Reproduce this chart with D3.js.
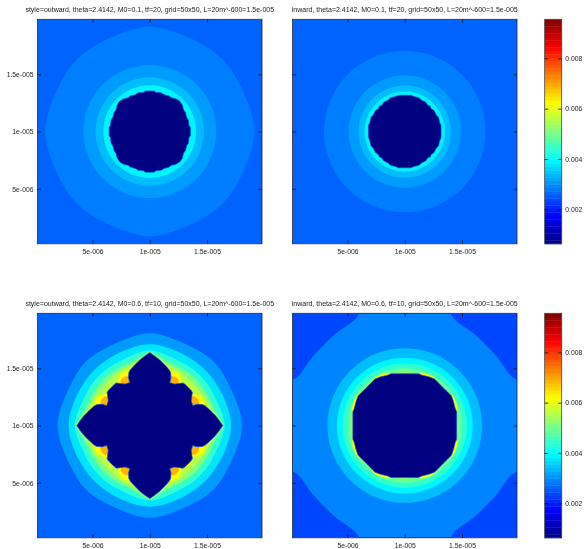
<!DOCTYPE html>
<html>
<head>
<meta charset="utf-8">
<script src="https://cdn.jsdelivr.net/npm/d3@7"></script>
<style>
    html, body { margin: 0; background: #fff; }
    svg { display: block; filter: blur(0.3px); }
    text { font-family: "Liberation Sans", sans-serif; font-size: 6.8px; fill: #222; }
    text.title { font-size: 7px; }
</style>
</head>
<body>
<svg id="chart" width="584" height="549"></svg>
<script>
const titles = [
    "style=outward, theta=2.4142, M0=0.1, tf=20, grid=50x50, L=20m^-600=1.5e-005",
    "inward, theta=2.4142, M0=0.1, tf=20, grid=50x50, L=20m^-600=1.5e-005",
    "style=outward, theta=2.4142, M0=0.6, tf=10, grid=50x50, L=20m^-600=1.5e-005",
    "inward, theta=2.4142, M0=0.6, tf=10, grid=50x50, L=20m^-600=1.5e-005"
];
const axisTicks = [5e-6, 1e-5, 1.5e-5];
const axisLabels = ["5e-006", "1e-005", "1.5e-005"];
const axisDomain = [2e-7, 1.98e-5];
const colorTicks = [0.002, 0.004, 0.006, 0.008];
const colorDomain = [0.00063, 0.00955];
const colorSteps = 64;
const center = 1e-5;
const ringAngles = [0, 7.5, 15, 22.5, 30, 37.5, 45];

// Contours are one octant in micrometres from the centre: [dx, dy], from the axis to the diagonal.
const ring = radii => radii.map((r, i) => [r * Math.sin(ringAngles[i] * Math.PI / 180), r * Math.cos(ringAngles[i] * Math.PI / 180)]);
const circle = r => ring(ringAngles.map(() => r));

const outwardLowBackground = 0.0026;
const outwardLowValues = [0.00285, 0.0031, 0.0034, 0.0039];
const outwardLowRings = [
    ring([9.17, 9.05, 8.95, 8.88, 8.88, 8.92, 8.95]),
    circle(5.8),
    circle(4.73),
    circle(4.05)
];
const outwardLowCore = [[0, 3.55], [0.35, 3.55], [0.55, 3.42], [1.0, 3.38], [1.25, 3.22], [1.65, 3.12], [1.9, 2.95], [2.3, 2.85], [2.6, 2.68]];

const inwardLowBackground = 0.0026;
const inwardLowValues = [0.00285, 0.0031, 0.0034, 0.0039];
const inwardLowRings = [
    circle(7.05),
    circle(4.9),
    circle(4.03),
    circle(3.5)
];
const inwardLowCore = [[0, 3.17], [0.55, 3.17], [0.8, 3.05], [1.25, 2.95], [1.45, 2.75], [1.85, 2.55], [2.0, 2.3], [2.22, 2.22]];

const outwardHighBackground = 0.0026;
const outwardHighValues = [0.0031, 0.00375, 0.0044, 0.0051, 0.0056, 0.0062, 0.00687];
const outwardHighRings = [
    ring([8.05, 7.98, 7.85, 7.78, 7.78, 7.85, 7.9]),
    ring([7.09, 7.05, 6.95, 6.9, 6.85, 6.85, 6.85]),
    ring([6.55, 6.45, 6.3, 6.2, 6.2, 6.2, 6.2]),
    [[0, 6.42], [0.9, 5.95], [1.8, 5.45], [2.8, 4.95], [4.03, 4.03]],
    [[0, 6.38], [0.8, 5.85], [1.5, 5.35], [2.6, 4.7], [3.71, 3.71]],
    [[0, 5.0], [1.3, 4.9], [1.8, 4.85], [2.45, 4.6], [2.7, 4.1], [2.8, 3.7], [3.45, 3.45]],
    [[0, 4.2], [1.7, 4.35], [2.3, 4.2], [2.55, 3.9], [2.5, 3.6], [3.3, 3.3]]
];
const outwardHighCore = [[0, 6.37], [0.4, 6.1], [0.85, 5.75], [1.1, 5.5], [1.4, 5.2], [1.72, 4.83], [1.83, 4.6], [1.85, 4.13], [1.74, 3.75], [2.15, 3.62], [2.9, 3.72], [3.05, 3.62], [3.35, 3.35]];

const inwardHighBackground = 0.00235;
const inwardHighValues = [0.0029, 0.0034, 0.0039, 0.0044, 0.0049, 0.0055, 0.0062];
const inwardHighRings = [
    [[0, 10.4], [3.75, 10.4], [3.98, 9.8], [4.42, 9.2], [6.0, 8.05], [7.05, 7.05]],
    circle(6.75),
    circle(5.93),
    circle(5.42),
    circle(5.0),
    circle(4.63),
    [[0, 4.5], [1.0, 4.55], [1.5, 4.6], [2.1, 4.45], [2.6, 4.2], [2.9, 3.8], [3.33, 3.33]]
];
const inwardHighCore = [[0, 4.53], [1.2, 4.53], [1.5, 4.4], [2.1, 4.25], [2.6, 4.07], [2.97, 3.7], [3.33, 3.33]];

const panels = [
    { left: 37.5, top: 19.3, background: outwardLowBackground, values: outwardLowValues, rings: outwardLowRings, core: outwardLowCore },
    { left: 292.5, top: 19.3, background: inwardLowBackground, values: inwardLowValues, rings: inwardLowRings, core: inwardLowCore },
    { left: 37.5, top: 313.3, background: outwardHighBackground, values: outwardHighValues, rings: outwardHighRings, core: outwardHighCore },
    { left: 292.5, top: 313.3, background: inwardHighBackground, values: inwardHighValues, rings: inwardHighRings, core: inwardHighCore }
];
const panelSize = 224.5;
const barLeft = 544.7;
const barWidth = 17;
const tickLength = 3.5;
const frameColor = "#1c2438";

const svg = d3.select("#chart");

function jet(t) {
    const ramp = x => Math.max(0, Math.min(1, x));
    const r = ramp(Math.min(4 * t - 1.5, 4.5 - 4 * t));
    const g = ramp(Math.min(4 * t - 0.5, 3.5 - 4 * t));
    const b = ramp(Math.min(4 * t + 0.5, 2.5 - 4 * t));
    return d3.rgb(255 * r, 255 * g, 255 * b).formatHex();
}

const colorNorm = d3.scaleLinear().domain(colorDomain).range([0, 1]).clamp(true);
const colorOf = value => jet(colorNorm(value));

// Mirror an octant into the whole closed contour.
function closeContour(octant) {
    const quadrant = [...octant, ...octant.slice(0, -1).reverse().map(([a, b]) => [b, a])];
    const turn = ([a, b]) => [b, -a];
    const second = quadrant.map(turn);
    const third = second.map(turn);
    const fourth = third.map(turn);
    return [...quadrant, ...second.slice(1), ...third.slice(1), ...fourth.slice(1, -1)];
}

function styleAxis(group) {
    group.attr("font-family", null).attr("font-size", null);
    group.select(".domain").remove();
    group.selectAll(".tick line").attr("stroke", "#111").attr("stroke-width", 0.8);
}

function drawPanel(panel, index) {
    const g = svg.append("g");
    const x = d3.scaleLinear().domain(axisDomain).range([panel.left, panel.left + panelSize]);
    const y = d3.scaleLinear().domain(axisDomain).range([panel.top + panelSize, panel.top]);
    const clipId = `clip-${index}`;

    svg.append("clipPath").attr("id", clipId)
        .append("rect")
        .attr("x", panel.left).attr("y", panel.top)
        .attr("width", panelSize).attr("height", panelSize);

    const field = g.append("g").attr("clip-path", `url(#${clipId})`);

    field.append("rect")
        .attr("x", panel.left).attr("y", panel.top)
        .attr("width", panelSize).attr("height", panelSize)
        .attr("fill", colorOf(panel.background));

    const px = d => x(center + d * 1e-6);
    const py = d => y(center + d * 1e-6);
    const smooth = d3.line().x(d => px(d[0])).y(d => py(d[1])).curve(d3.curveCatmullRomClosed.alpha(0.5));
    const sharp = d3.line().x(d => px(d[0])).y(d => py(d[1])).curve(d3.curveLinearClosed);

    panel.rings.forEach((octant, i) => {
        field.append("path")
            .attr("d", smooth(closeContour(octant)))
            .attr("fill", colorOf(panel.values[i]));
    });

    field.append("path")
        .attr("d", sharp(closeContour(panel.core)))
        .attr("fill", colorOf(colorDomain[0]))
        .attr("stroke", "#0050f0")
        .attr("stroke-width", 0.7)
        .attr("stroke-linejoin", "round");

    g.append("rect")
        .attr("x", panel.left).attr("y", panel.top)
        .attr("width", panelSize).attr("height", panelSize)
        .attr("fill", "none")
        .attr("stroke", frameColor)
        .attr("stroke-width", 0.8);

    const label = d => axisLabels[axisTicks.indexOf(d)];
    const bottom = panel.top + panelSize;
    const right = panel.left + panelSize;

    g.append("g").attr("transform", `translate(0,${bottom})`)
        .call(d3.axisBottom(x).tickValues(axisTicks).tickFormat(label).tickSizeInner(-tickLength).tickSizeOuter(0).tickPadding(5.5))
        .call(styleAxis);
    g.append("g").attr("transform", `translate(0,${panel.top})`)
        .call(d3.axisTop(x).tickValues(axisTicks).tickFormat("").tickSizeInner(-tickLength).tickSizeOuter(0))
        .call(styleAxis);
    g.append("g").attr("transform", `translate(${right},0)`)
        .call(d3.axisRight(y).tickValues(axisTicks).tickFormat("").tickSizeInner(-tickLength).tickSizeOuter(0))
        .call(styleAxis);
    g.append("g").attr("transform", `translate(${panel.left},0)`)
        .call(d3.axisLeft(y).tickValues(axisTicks).tickFormat(panel.left < 100 ? label : "").tickSizeInner(-tickLength).tickSizeOuter(0).tickPadding(4))
        .call(styleAxis);

    g.append("text")
        .attr("class", "title")
        .attr("x", panel.left + panelSize / 2)
        .attr("y", panel.top - 7.2)
        .attr("text-anchor", "middle")
        .text(titles[index]);
}

function drawColorBar(top) {
    const g = svg.append("g");
    const y = d3.scaleLinear().domain(colorDomain).range([top + panelSize, top]);
    const step = (colorDomain[1] - colorDomain[0]) / colorSteps;

    g.selectAll("rect.step")
        .data(d3.range(colorSteps))
        .join("rect")
        .attr("class", "step")
        .attr("x", barLeft)
        .attr("width", barWidth)
        .attr("y", i => y(colorDomain[0] + (i + 1) * step))
        .attr("height", panelSize / colorSteps + 0.4)
        .attr("fill", i => jet((i + 0.5) / colorSteps));

    g.append("rect")
        .attr("x", barLeft).attr("y", top)
        .attr("width", barWidth).attr("height", panelSize)
        .attr("fill", "none")
        .attr("stroke", "#444")
        .attr("stroke-width", 0.8);

    g.append("g").attr("transform", `translate(${barLeft + barWidth},0)`)
        .call(d3.axisRight(y).tickValues(colorTicks).tickFormat(d3.format(".3f")).tickSizeInner(-tickLength).tickSizeOuter(0).tickPadding(3.6))
        .call(styleAxis);
    g.append("g").attr("transform", `translate(${barLeft},0)`)
        .call(d3.axisLeft(y).tickValues(colorTicks).tickFormat("").tickSizeInner(-tickLength).tickSizeOuter(0))
        .call(styleAxis);
}

panels.forEach(drawPanel);
drawColorBar(19.3);
drawColorBar(313.3);
</script>
</body>
</html>
